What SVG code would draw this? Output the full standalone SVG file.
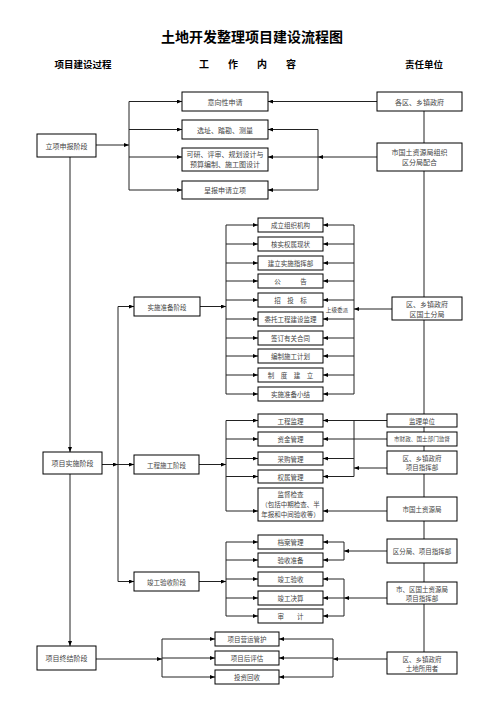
<svg xmlns="http://www.w3.org/2000/svg" width="503" height="711" viewBox="0 0 503 711">
<style>
.b{fill:#fff;stroke:#000;stroke-width:1}
.t{font-family:"Noto Sans CJK SC","Noto Sans",sans-serif;font-size:7px;fill:#444;text-anchor:middle;dominant-baseline:central}
.s{font-size:6.5px}
.xs{font-size:5.6px}
.h{font-family:"Noto Sans CJK SC","Noto Sans",sans-serif;font-weight:bold;fill:#000;text-anchor:middle}
.c line,.c path{stroke:#222;stroke-width:1;fill:none}
.a{marker-end:url(#ar)}
</style>
<defs>
<marker id="ar" markerUnits="userSpaceOnUse" markerWidth="5" markerHeight="4" viewBox="0 0 5 4" refX="5" refY="2" orient="auto"><path d="M0,0L5,2L0,4z" fill="#000"/></marker>
</defs>
<rect width="503" height="711" fill="#fff"/>
<text class="h" x="252" y="42" font-size="14">土地开发整理项目建设流程图</text>
<text class="h" x="83" y="67.5" font-size="9.5">项目建设过程</text>
<text class="h" x="204 233 262 291" y="67.5" font-size="10" text-anchor="start">工作内容</text>
<text class="h" x="424" y="67.5" font-size="9.5">责任单位</text>

<g id="connectors" class="c">
<line x1="424" y1="111" x2="424" y2="652"/>
<line x1="70" y1="157" x2="70" y2="452" class="a"/>
<line x1="70" y1="474" x2="70" y2="646" class="a"/>
<line x1="96" y1="145" x2="129" y2="145" class="a"/>
<line x1="129" y1="101.5" x2="129" y2="190"/>
<line x1="129" y1="101.5" x2="182" y2="101.5" class="a"/>
<line x1="129" y1="129.5" x2="182" y2="129.5" class="a"/>
<line x1="129" y1="157" x2="182" y2="157" class="a"/>
<line x1="129" y1="190" x2="182" y2="190" class="a"/>
<line x1="377" y1="101.5" x2="268" y2="101.5" class="a"/>
<line x1="377" y1="157" x2="318" y2="157" class="a"/>
<line x1="318" y1="129.5" x2="318" y2="190"/>
<line x1="318" y1="129.5" x2="268" y2="129.5" class="a"/>
<line x1="318" y1="157" x2="268" y2="157" class="a"/>
<line x1="318" y1="190" x2="268" y2="190" class="a"/>
<line x1="118" y1="306.5" x2="118" y2="581.5"/>
<line x1="118" y1="306.5" x2="134" y2="306.5" class="a"/>
<line x1="102" y1="464.5" x2="118" y2="464.5" class="a"/>
<line x1="118" y1="464.5" x2="134" y2="464.5" class="a"/>
<line x1="118" y1="581.5" x2="134" y2="581.5" class="a"/>
<line x1="200" y1="306.5" x2="226" y2="306.5" class="a"/>
<line x1="226" y1="225" x2="226" y2="394"/>
<line x1="226" y1="225" x2="258" y2="225" class="a"/>
<line x1="226" y1="244" x2="258" y2="244" class="a"/>
<line x1="226" y1="263" x2="258" y2="263" class="a"/>
<line x1="226" y1="281" x2="258" y2="281" class="a"/>
<line x1="226" y1="300" x2="258" y2="300" class="a"/>
<line x1="226" y1="319" x2="258" y2="319" class="a"/>
<line x1="226" y1="338" x2="258" y2="338" class="a"/>
<line x1="226" y1="356" x2="258" y2="356" class="a"/>
<line x1="226" y1="375" x2="258" y2="375" class="a"/>
<line x1="226" y1="394" x2="258" y2="394" class="a"/>
<line x1="392" y1="309" x2="354" y2="309" class="a"/>
<line x1="354" y1="225" x2="354" y2="394"/>
<line x1="354" y1="225" x2="323" y2="225" class="a"/>
<line x1="354" y1="244" x2="323" y2="244" class="a"/>
<line x1="354" y1="263" x2="323" y2="263" class="a"/>
<line x1="354" y1="281" x2="323" y2="281" class="a"/>
<line x1="354" y1="300" x2="323" y2="300" class="a"/>
<line x1="354" y1="319" x2="323" y2="319" class="a"/>
<line x1="354" y1="338" x2="323" y2="338" class="a"/>
<line x1="354" y1="356" x2="323" y2="356" class="a"/>
<line x1="354" y1="375" x2="323" y2="375" class="a"/>
<line x1="354" y1="394" x2="323" y2="394" class="a"/>
<line x1="199" y1="464.5" x2="226" y2="464.5" class="a"/>
<line x1="226" y1="420.5" x2="226" y2="511"/>
<line x1="226" y1="420.5" x2="258" y2="420.5" class="a"/>
<line x1="226" y1="439" x2="258" y2="439" class="a"/>
<line x1="226" y1="458.5" x2="258" y2="458.5" class="a"/>
<line x1="226" y1="476.5" x2="258" y2="476.5" class="a"/>
<line x1="226" y1="511" x2="258" y2="511" class="a"/>
<line x1="387" y1="420.5" x2="323" y2="420.5" class="a"/>
<line x1="387" y1="439" x2="323" y2="439" class="a"/>
<line x1="354" y1="420.5" x2="354" y2="476.5"/>
<line x1="387" y1="468" x2="354" y2="468" class="a"/>
<line x1="354" y1="458.5" x2="323" y2="458.5" class="a"/>
<line x1="354" y1="476.5" x2="323" y2="476.5" class="a"/>
<line x1="387" y1="511" x2="323" y2="511" class="a"/>
<line x1="199" y1="581.5" x2="226" y2="581.5" class="a"/>
<line x1="226" y1="542" x2="226" y2="616"/>
<line x1="226" y1="542" x2="258" y2="542" class="a"/>
<line x1="226" y1="560" x2="258" y2="560" class="a"/>
<line x1="226" y1="579" x2="258" y2="579" class="a"/>
<line x1="226" y1="598" x2="258" y2="598" class="a"/>
<line x1="226" y1="616" x2="258" y2="616" class="a"/>
<line x1="387" y1="551" x2="344" y2="551" class="a"/>
<line x1="344" y1="542" x2="344" y2="560"/>
<line x1="344" y1="542" x2="323" y2="542" class="a"/>
<line x1="344" y1="560" x2="323" y2="560" class="a"/>
<line x1="387" y1="598" x2="344" y2="598" class="a"/>
<line x1="344" y1="579" x2="344" y2="616"/>
<line x1="344" y1="579" x2="323" y2="579" class="a"/>
<line x1="344" y1="598" x2="323" y2="598" class="a"/>
<line x1="344" y1="616" x2="323" y2="616" class="a"/>
<line x1="96" y1="659" x2="162" y2="659" class="a"/>
<line x1="162" y1="639" x2="162" y2="677"/>
<line x1="162" y1="639" x2="215" y2="639" class="a"/>
<line x1="162" y1="658" x2="215" y2="658" class="a"/>
<line x1="162" y1="677" x2="215" y2="677" class="a"/>
<line x1="387" y1="659" x2="333" y2="659" class="a"/>
<line x1="333" y1="639" x2="333" y2="677"/>
<line x1="333" y1="639" x2="279" y2="639" class="a"/>
<line x1="333" y1="658" x2="279" y2="658" class="a"/>
<line x1="333" y1="677" x2="279" y2="677" class="a"/>
</g>
<text class="t xs" x="337" y="310">上级委派</text>

<g id="n-lixiang"><rect class="b" x="37" y="134" width="59" height="23"/><text class="t" x="66.5" y="145.5">立项申报阶段</text></g>
<g id="n-shishi"><rect class="b" x="43" y="452" width="59" height="22"/><text class="t" x="72.5" y="463">项目实施阶段</text></g>
<g id="n-zhongjie"><rect class="b" x="37" y="646" width="59" height="24"/><text class="t" x="66.5" y="658">项目终结阶段</text></g>
<g id="n-zhunbei"><rect class="b" x="134" y="297" width="66" height="19"/><text class="t s" x="167" y="306.5">实施准备阶段</text></g>
<g id="n-shigong"><rect class="b" x="134" y="455" width="65" height="19"/><text class="t s" x="166.5" y="464.5">工程施工阶段</text></g>
<g id="n-jungong"><rect class="b" x="134" y="572" width="65" height="19"/><text class="t s" x="166.5" y="581.5">竣工验收阶段</text></g>

<g id="n-yixiang"><rect class="b" x="182" y="92" width="86" height="19"/><text class="t" x="225" y="101.5">意向性申请</text></g>
<g id="n-xuanzhi"><rect class="b" x="182" y="120" width="86" height="19"/><text class="t" x="225" y="129.5">选址、踏勘、测量</text></g>
<g id="n-keyan"><rect class="b" x="182" y="148" width="86" height="23"/><text class="t" x="225" y="154">可研、评审、规划设计与</text><text class="t" x="225" y="164">预算编制、施工图设计</text></g>
<g id="n-chengbao"><rect class="b" x="182" y="181" width="86" height="18"/><text class="t" x="225" y="190">呈报申请立项</text></g>
<g id="n-gequ"><rect class="b" x="377" y="92" width="85" height="19"/><text class="t" x="419.5" y="101.5">各区、乡镇政府</text></g>
<g id="n-shiguotu"><rect class="b" x="377" y="143" width="85" height="28"/><text class="t" x="419.5" y="151.5">市国土资源局组织</text><text class="t" x="419.5" y="161.5">区分局配合</text></g>

<g id="p1"><rect class="b" x="258" y="218" width="65" height="14"/><text class="t s" x="290.5" y="225">成立组织机构</text></g>
<g id="p2"><rect class="b" x="258" y="237" width="65" height="14"/><text class="t s" x="290.5" y="244">核实权属现状</text></g>
<g id="p3"><rect class="b" x="258" y="256" width="65" height="14"/><text class="t s" x="290.5" y="263">建立实施指挥部</text></g>
<g id="p4"><rect class="b" x="258" y="274" width="65" height="14"/><text class="t s" x="290.5" y="281">公　　　告</text></g>
<g id="p5"><rect class="b" x="258" y="293" width="65" height="14"/><text class="t s" x="290.5" y="300">招　投　标</text></g>
<g id="p6"><rect class="b" x="258" y="312" width="65" height="14"/><text class="t s" x="290.5" y="319">委托工程建设监理</text></g>
<g id="p7"><rect class="b" x="258" y="331" width="65" height="14"/><text class="t s" x="290.5" y="338">签订有关合同</text></g>
<g id="p8"><rect class="b" x="258" y="349" width="65" height="14"/><text class="t s" x="290.5" y="356">编制施工计划</text></g>
<g id="p9"><rect class="b" x="258" y="368" width="65" height="14"/><text class="t s" x="290.5" y="375">制　度　建　立</text></g>
<g id="p10"><rect class="b" x="258" y="387" width="65" height="14"/><text class="t s" x="290.5" y="394">实施准备小结</text></g>
<g id="r-prep"><rect class="b" x="392" y="297" width="70" height="23"/><text class="t" x="427" y="303.5">区、乡镇政府</text><text class="t" x="427" y="313.5">区国土分局</text></g>

<g id="c1"><rect class="b" x="258" y="414" width="65" height="13"/><text class="t s" x="290.5" y="420.5">工程监理</text></g>
<g id="c2"><rect class="b" x="258" y="432" width="65" height="14"/><text class="t s" x="290.5" y="439">资金管理</text></g>
<g id="c3"><rect class="b" x="258" y="452" width="65" height="13"/><text class="t s" x="290.5" y="458.5">采购管理</text></g>
<g id="c4"><rect class="b" x="258" y="470" width="65" height="13"/><text class="t s" x="290.5" y="476.5">权属管理</text></g>
<g id="c5"><rect class="b" x="258" y="488" width="65" height="33"/><text class="t s" x="290.5" y="494">监督检查</text><text class="t s" x="290.5" y="504">（包括中期检查、半</text><text class="t s" x="290.5" y="514">年报和中间验收等）</text></g>
<g id="r-jianli"><rect class="b" x="387" y="414" width="70" height="13"/><text class="t s" x="422" y="420.5">监理单位</text></g>
<g id="r-caizheng"><rect class="b" x="387" y="432" width="70" height="14"/><text class="t xs" x="422" y="439">市财政、国土部门监督</text></g>
<g id="r-zhihui"><rect class="b" x="387" y="451" width="70" height="23"/><text class="t s" x="422" y="458">区、乡镇政府</text><text class="t s" x="422" y="467">项目指挥部</text></g>
<g id="r-shiju"><rect class="b" x="387" y="497" width="70" height="24"/><text class="t s" x="422" y="509">市国土资源局</text></g>

<g id="a1"><rect class="b" x="258" y="535" width="65" height="14"/><text class="t s" x="290.5" y="542">档案管理</text></g>
<g id="a2"><rect class="b" x="258" y="553" width="65" height="14"/><text class="t s" x="290.5" y="560">验收准备</text></g>
<g id="a3"><rect class="b" x="258" y="572" width="65" height="14"/><text class="t s" x="290.5" y="579">竣工验收</text></g>
<g id="a4"><rect class="b" x="258" y="591" width="65" height="14"/><text class="t s" x="290.5" y="598">竣工决算</text></g>
<g id="a5"><rect class="b" x="258" y="609" width="65" height="14"/><text class="t s" x="290.5" y="616">审　　计</text></g>
<g id="r-fenju"><rect class="b" x="387" y="539" width="70" height="24"/><text class="t s" x="422" y="551">区分局、项目指挥部</text></g>
<g id="r-shiqu"><rect class="b" x="387" y="582" width="70" height="22"/><text class="t s" x="422" y="588.5">市、区国土资源局</text><text class="t s" x="422" y="597.5">项目指挥部</text></g>

<g id="f1"><rect class="b" x="215" y="632" width="64" height="14"/><text class="t s" x="247" y="639">项目营运管护</text></g>
<g id="f2"><rect class="b" x="215" y="651" width="64" height="14"/><text class="t s" x="247" y="658">项目后评估</text></g>
<g id="f3"><rect class="b" x="215" y="670" width="64" height="14"/><text class="t s" x="247" y="677">投资回收</text></g>
<g id="r-yongzhe"><rect class="b" x="387" y="652" width="70" height="22"/><text class="t s" x="422" y="658.5">区、乡镇政府</text><text class="t s" x="422" y="667.5">土地所用者</text></g>
</svg>
